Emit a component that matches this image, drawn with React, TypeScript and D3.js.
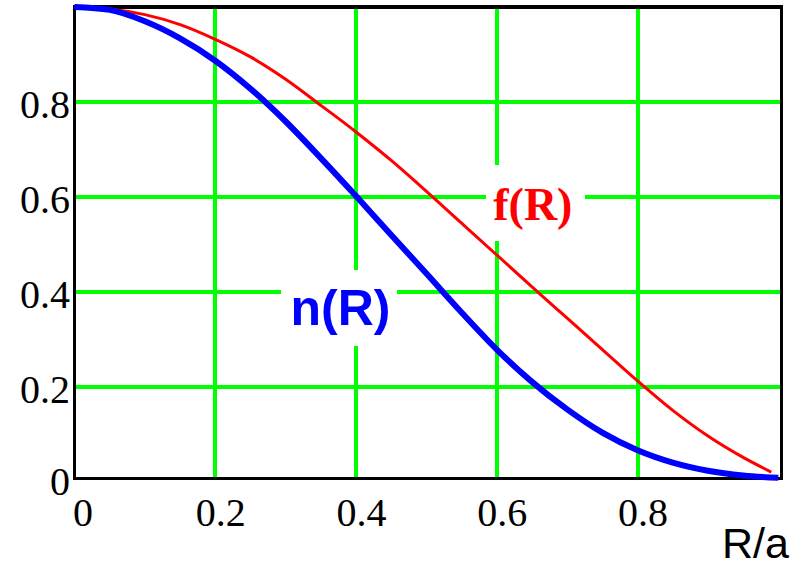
import React from "react";
import * as d3 from "d3";

const W = 801;
const H = 566;

// n(R) samples
const rN = [0, 0.05, 0.1, 0.15, 0.2, 0.25, 0.3, 0.35, 0.4, 0.45, 0.5, 0.55, 0.6, 0.65, 0.7, 0.75, 0.8, 0.85, 0.9, 0.95, 1.0];
const nValues = [1.0, 0.994, 0.97, 0.934, 0.887, 0.828, 0.759, 0.682, 0.602, 0.52, 0.439, 0.357, 0.279, 0.211, 0.153, 0.104, 0.067, 0.041, 0.024, 0.014, 0.009];

// f(R) samples
const rF = [0, 0.05, 0.1, 0.15, 0.2, 0.25, 0.3, 0.35, 0.4, 0.45, 0.5, 0.55, 0.6, 0.65, 0.7, 0.75, 0.8, 0.85, 0.9, 0.95, 0.99];
const fValues = [1.0, 0.996, 0.984, 0.963, 0.932, 0.895, 0.848, 0.793, 0.737, 0.677, 0.612, 0.545, 0.478, 0.411, 0.345, 0.279, 0.213, 0.151, 0.097, 0.052, 0.021];

const xTicks = [0, 0.2, 0.4, 0.6, 0.8];
const yTicks = [0, 0.2, 0.4, 0.6, 0.8];
const xTickLabels = ["0", "0.2", "0.4", "0.6", "0.8"];
const yTickLabels = ["0", "0.2", "0.4", "0.6", "0.8"];
const gridX = [0.2, 0.4, 0.6, 0.8];
const gridY = [0.2, 0.4, 0.6, 0.8];

const xDomain = [0, 1.0045];
const yDomain = [0.008, 1];

// curve labels: text position (left, baseline) and white box, in data units
const labelF = { text: "f(R)", x: 0.595, y: 0.552, box: [0.584, 0.725, 0.667, 0.507] };
const labelN = { text: "n(R)", x: 0.307, y: 0.331, box: [0.294, 0.458, 0.446, 0.286] };

export default function App() {
  const x = d3.scaleLinear().domain(xDomain).range([74.5, 781.5]);
  const y = d3.scaleLinear().domain(yDomain).range([478.3, 7]);

  const line = d3
    .line<[number, number]>()
    .x((d) => x(d[0]))
    .y((d) => y(d[1]))
    .curve(d3.curveMonotoneX);

  const nPath = line(rN.map((r, i) => [r, nValues[i]] as [number, number])) || "";
  const fPath = line(rF.map((r, i) => [r, fValues[i]] as [number, number])) || "";

  const [x0, x1] = x.range();
  const [yb, yt] = y.range();

  const box = (b: number[]) => ({
    x: x(b[0]),
    y: y(b[2]),
    width: x(b[1]) - x(b[0]),
    height: y(b[3]) - y(b[2]),
  });
  const bf = box(labelF.box);
  const bn = box(labelN.box);

  return (
    <svg
      width={W}
      height={H}
      style={{ position: "absolute", left: 0, top: 0, background: "#fff" }}
    >
      <rect x={0} y={0} width={W} height={H} fill="#fff" />
      <g shapeRendering="crispEdges">
        {gridX.map((v) => (
          <line key={"gx" + v} x1={x(v)} x2={x(v)} y1={yt} y2={yb} stroke="#00ff00" strokeWidth={4} />
        ))}
        {gridY.map((v) => (
          <line key={"gy" + v} x1={x0} x2={x1} y1={y(v)} y2={y(v)} stroke="#00ff00" strokeWidth={4} />
        ))}
        <rect {...bf} fill="#fff" />
        <rect {...bn} fill="#fff" />
        <rect x={x0} y={yt} width={x1 - x0} height={yb - yt} fill="none" stroke="#000" strokeWidth={3.5} />
      </g>
      <path d={fPath} fill="none" stroke="#ff0000" strokeWidth={3} />
      <path d={nPath} fill="none" stroke="#0000ff" strokeWidth={6} />
      {yTicks.map((v, i) => (
        <text
          key={"yt" + v}
          x={70}
          y={y(v) + 15.5 - (v === 0 ? 3 : 0)}
          textAnchor="end"
          fontFamily="'Liberation Serif', 'Times New Roman', serif"
          fontSize={40}
          fill="#000"
        >
          {yTickLabels[i]}
        </text>
      ))}
      {xTicks.map((v, i) => (
        <text
          key={"xt" + v}
          x={x(v) + (v === 0 ? -1.5 : 5.5)}
          y={526}
          textAnchor={v === 0 ? "start" : "middle"}
          fontFamily="'Liberation Serif', 'Times New Roman', serif"
          fontSize={40}
          fill="#000"
        >
          {xTickLabels[i]}
        </text>
      ))}
      <text
        x={x(labelF.x)}
        y={y(labelF.y)}
        fontFamily="'Liberation Serif', 'Times New Roman', serif"
        fontWeight="bold"
        fontSize={46}
        fill="#ff0000"
      >
        {labelF.text}
      </text>
      <text
        x={x(labelN.x)}
        y={y(labelN.y)}
        fontFamily="'Liberation Sans', Arial, sans-serif"
        fontWeight="bold"
        fontSize={50}
        fill="#0000ff"
      >
        {labelN.text}
      </text>
      <text
        x={722}
        y={558}
        fontFamily="'Liberation Sans', Arial, sans-serif"
        fontSize={43}
        fill="#000"
      >
        R/a
      </text>
    </svg>
  );
}
